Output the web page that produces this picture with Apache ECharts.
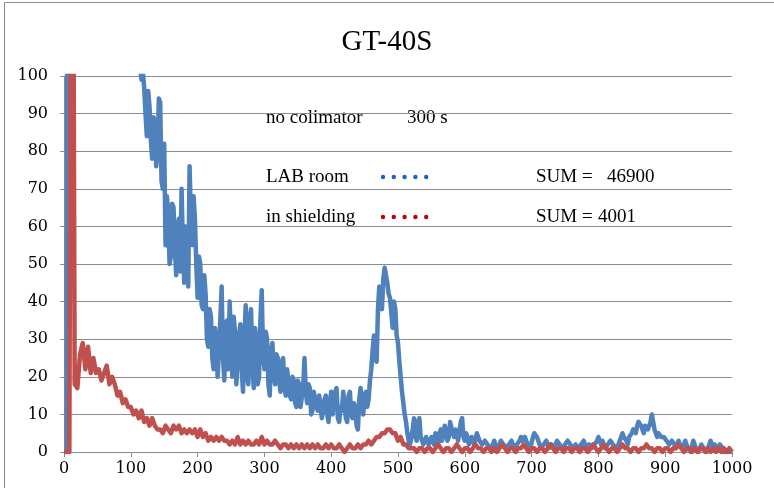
<!DOCTYPE html>
<html>
<head>
<meta charset="utf-8">
<title>GT-40S</title>
<script src="https://cdn.jsdelivr.net/npm/echarts@6/dist/echarts.min.js"></script>
<style>
  html, body { margin: 0; padding: 0; background: #ffffff; }
  #chart { width: 774px; height: 488px; }
</style>
</head>
<body>
<div id="chart"></div>
<script>
// channel spacing of the read-off points
const LAB_STEP = 2
const SHIELD_STEP = 4

// LAB room, no colimator, 300 s (one row = 40 channels, step 2)
const labRoom = [
  0, 0, 0, 250, 400, 390, 380, 370, 360, 350, 340, 330, 320, 310, 300, 292, 285, 278, 270, 262, // 0
  255, 248, 240, 234, 228, 222, 216, 210, 205, 200, 195, 190, 185, 180, 176, 172, 168, 164, 160, 156, // 40
  152, 149, 145, 141, 138, 135, 132, 129, 126, 123, 120, 118, 115, 112, 110, 107, 105, 102, 99, 101, // 80
  97, 90, 84, 96, 92, 83, 78, 89, 88, 76, 80, 94, 93, 72, 70, 82, 55, 68, 64, 50, // 120
  52, 66, 65, 54, 47, 60, 62, 48, 70, 55, 45, 60, 58, 44, 76, 62, 55, 68, 62, 50, // 160
  41, 52, 50, 39, 38, 47, 42, 30, 28, 38, 36, 25, 22, 33, 30, 20, 20, 35, 44, 25, // 200
  19, 33, 35, 22, 40, 30, 20, 36, 32, 18, 18, 31, 34, 22, 16, 30, 39, 20, 18, 36, // 240
  38, 24, 17, 33, 30, 18, 20, 35, 43, 26, 22, 32, 30, 18, 15, 27, 29, 20, 18, 26, // 280
  25, 19, 16, 24, 25, 17, 15, 22, 22, 15, 14, 20, 19, 13, 12, 19, 18, 12, 12, 17, // 320
  25, 16, 13, 18, 17, 10, 11, 16, 16, 12, 11, 15, 15, 9, 9, 14, 15, 10, 8, 13,    // 360
  16, 10, 10, 16, 17, 9, 8, 12, 11, 16, 16, 9, 8, 15, 16, 10, 9, 13, 12, 7,       // 400
  6, 14, 17, 11, 10, 15, 16, 12, 14, 19, 22, 27, 31, 25, 24, 38, 44, 40, 38, 46,  // 440
  49, 47, 45, 42, 41, 37, 33, 40, 38, 31, 29, 24, 20, 16, 13, 10, 8, 5, 3, 2,     // 480
  2, 6, 9, 4, 3, 8, 9, 4, 3, 2, 2, 4, 4, 2, 2, 4, 3, 2, 5, 3,                     // 520
  2, 5, 6, 3, 3, 7, 7, 3, 4, 8, 8, 5, 4, 6, 6, 3, 3, 8, 9, 4,                     // 560
  3, 5, 4, 2, 2, 4, 4, 2, 2, 5, 5, 3, 3, 2, 2, 3, 3, 2, 2, 1,                     // 600
  1, 2, 3, 2, 2, 1, 1, 3, 3, 2, 2, 1, 1, 2, 2, 3, 3, 1, 1, 2,                     // 640
  2, 3, 4, 3, 3, 4, 4, 2, 2, 1, 1, 4, 5, 5, 4, 3, 2, 1, 1, 2,                     // 680
  2, 3, 3, 1, 1, 2, 2, 1, 1, 3, 3, 2, 2, 1, 1, 2, 2, 3, 3, 2,                     // 720
  2, 1, 1, 2, 2, 1, 1, 2, 2, 3, 3, 1, 1, 2, 2, 1, 1, 2, 2, 3,                     // 760
  4, 3, 2, 3, 3, 1, 1, 2, 2, 3, 3, 2, 2, 1, 1, 2, 2, 4, 5, 4,                     // 800
  4, 3, 2, 4, 4, 5, 6, 6, 5, 7, 8, 8, 7, 6, 5, 7, 7, 6, 6, 8,                     // 840
  10, 8, 6, 5, 4, 5, 5, 4, 4, 4, 4, 3, 3, 2, 2, 3, 3, 2, 1, 1,                    // 880
  3, 2, 2, 1, 1, 3, 3, 1, 1, 0, 0, 3, 3, 1, 1, 0, 0, 2, 2, 1,                     // 920
  1, 0, 0, 2, 3, 1, 1, 2, 2, 1, 1, 2, 2, 1, 0, 0, 0, 0, 0, 0,                     // 960
  0                                                                               // 1000
]

// in shielding (one row = 40 channels, step 4)
const inShielding = [
  0, 0, 0, 240, 18, 17, 26, 29, 22, 28,   // 0
  21, 25, 21, 22, 19, 21, 23, 18, 20, 18, // 40
  15, 16, 13, 14, 12, 12, 10, 11, 9, 11,  // 80
  8, 9, 7, 9, 7, 6, 6, 5, 7, 6,           // 120
  5, 7, 6, 7, 5, 6, 5, 6, 5, 6,           // 160
  4, 6, 4, 5, 3, 4, 3, 4, 3, 4,           // 200
  3, 3, 2, 3, 2, 4, 2, 3, 2, 3,           // 240
  2, 2, 3, 2, 4, 2, 3, 2, 2, 3,           // 280
  2, 1, 2, 2, 1, 2, 1, 2, 1, 2,           // 320
  1, 2, 1, 2, 1, 2, 1, 1, 2, 1,           // 360
  2, 1, 1, 2, 1, 0, 1, 2, 1, 1,           // 400
  2, 1, 2, 2, 3, 2, 3, 4, 4, 5,           // 440
  5, 6, 6, 5, 5, 3, 4, 2, 2, 1,           // 480
  1, 1, 0, 1, 1, 0, 1, 1, 0, 1,           // 520
  2, 1, 0, 1, 1, 0, 1, 2, 1, 0,           // 560
  1, 1, 0, 1, 2, 1, 1, 0, 1, 1,           // 600
  0, 1, 0, 1, 2, 1, 0, 1, 1, 0,           // 640
  1, 1, 2, 1, 0, 1, 1, 0, 1, 1,           // 680
  0, 1, 2, 1, 0, 1, 1, 0, 1, 1,           // 720
  0, 1, 1, 0, 1, 1, 0, 1, 2, 1,           // 760
  0, 1, 2, 1, 0, 1, 1, 0, 1, 2,           // 800
  1, 1, 0, 1, 1, 0, 1, 1, 2, 1,           // 840
  1, 0, 1, 1, 0, 1, 1, 0, 1, 1,           // 880
  2, 1, 0, 1, 1, 0, 1, 0, 1, 1,           // 920
  0, 1, 0, 1, 0, 1, 0, 1, 0, 1,           // 960
  0                                       // 1000
]

const seriesNames = ['LAB room', 'in shielding']
const seriesColors = ['#4F81BD', '#C0504D']
const dotColors = ['#1A62C4', '#C00000']

const toPoints = (arr, step) => arr.map((v, i) => [i * step, v])

const serif = '"Liberation Serif", "DejaVu Serif", serif'
const tickFont = '"DejaVu Serif", serif'
const gridColor = '#8C8C8C'

const chart = echarts.init(document.getElementById('chart'), null, { renderer: 'canvas' })

// dotted legend markers
const dots = (y, color, x0) => {
  const out = []
  for (let k = 0; k < 5; k++) {
    out.push({
      type: 'circle',
      shape: { cx: x0 + k * 10.8, cy: y, r: 2.2 },
      style: { fill: color },
      silent: true
    })
  }
  return out
}

const label = (text, x, y) => ({
  type: 'text',
  x: x,
  y: y,
  style: { text: text, font: '19px ' + serif, fill: '#000', verticalAlign: 'middle' },
  silent: true
})

const option = {
  animation: false,
  backgroundColor: '#ffffff',
  title: {
    text: 'GT-40S',
    left: 'center',
    top: 23,
    textStyle: { fontFamily: serif, fontSize: 29, fontWeight: 'normal', color: '#000' }
  },
  grid: { left: 64, right: 42, top: 76, bottom: 36, containLabel: false },
  xAxis: {
    type: 'value',
    min: 0,
    max: 1000,
    interval: 100,
    axisLine: { show: true, lineStyle: { color: gridColor, width: 1 } },
    axisTick: { show: true, length: 5, lineStyle: { color: gridColor } },
    axisLabel: {
      color: '#000',
      fontFamily: tickFont,
      fontSize: 16,
      margin: 9,
      formatter: (v) => String(v)
    },
    splitLine: { show: false }
  },
  yAxis: {
    type: 'value',
    min: 0,
    max: 100,
    interval: 10,
    axisLine: { show: true, lineStyle: { color: gridColor, width: 1 } },
    axisTick: { show: true, length: 4, lineStyle: { color: gridColor } },
    axisLabel: { color: '#000', fontFamily: tickFont, fontSize: 16, margin: 16 },
    splitLine: { show: true, lineStyle: { color: gridColor, width: 1 } }
  },
  series: [
    {
      name: seriesNames[0],
      type: 'line',
      data: toPoints(labRoom, LAB_STEP),
      showSymbol: false,
      clip: true,
      lineStyle: { color: seriesColors[0], width: 4.5, join: 'round' },
      itemStyle: { color: seriesColors[0] },
      z: 2
    },
    {
      name: seriesNames[1],
      type: 'line',
      data: toPoints(inShielding, SHIELD_STEP),
      showSymbol: false,
      clip: true,
      lineStyle: { color: seriesColors[1], width: 4.5, join: 'round' },
      itemStyle: { color: seriesColors[1] },
      z: 3
    }
  ],
  graphic: [
    {
      type: 'rect',
      shape: { x: 4.5, y: 2.5, width: 900, height: 700 },
      style: { fill: 'none', stroke: '#8A8A8A', lineWidth: 1 },
      silent: true,
      z: -10
    },
    label('no colimator', 266, 118),
    label('300 s', 407, 118),
    label(seriesNames[0], 266, 177),
    label('SUM =', 536, 177),
    label('46900', 607, 177),
    label(seriesNames[1], 266, 217),
    label('SUM =', 536, 217),
    label('4001', 598, 217),
    ...dots(177, dotColors[0], 383),
    ...dots(217, dotColors[1], 383)
  ]
}

chart.setOption(option)
window.addEventListener('resize', () => chart.resize())
</script>
</body>
</html>
